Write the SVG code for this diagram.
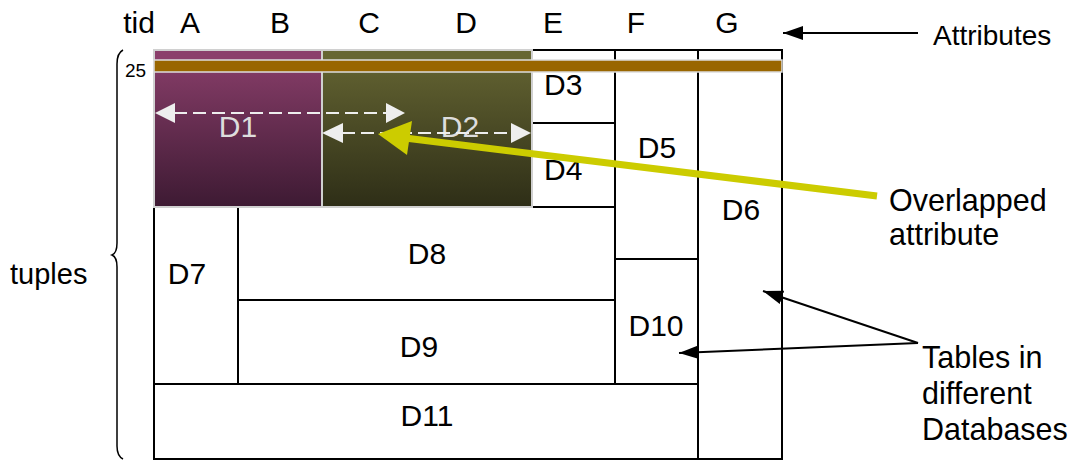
<svg xmlns="http://www.w3.org/2000/svg" width="1073" height="460" viewBox="0 0 1073 460">
  <style>
    text { font-family: "Liberation Sans", Arial, sans-serif; fill: #000; }
    .lbl { font-size: 30px; }
    .side { font-size: 30.5px; }
    .cell { fill: #fff; stroke: #000; stroke-width: 2; }
    .shade { stroke: #d0d0d0; stroke-width: 2; }
    .dash { stroke: #eeeeee; stroke-width: 2; stroke-dasharray: 13 6; fill: none; }
    .conn { stroke: #000; stroke-width: 2; fill: none; marker-end: url(#blackHead); }
  </style>
  <defs>
    <linearGradient id="gradD1" x1="0" y1="0" x2="0" y2="1">
      <stop offset="0" stop-color="#8b3f6b"/>
      <stop offset="1" stop-color="#3d1a33"/>
    </linearGradient>
    <linearGradient id="gradD2" x1="0" y1="0" x2="0" y2="1">
      <stop offset="0" stop-color="#666633"/>
      <stop offset="1" stop-color="#2e2e17"/>
    </linearGradient>
    <marker id="blackHead" markerUnits="userSpaceOnUse" markerWidth="22" markerHeight="16" refX="20" refY="7" orient="auto">
      <path d="M0,0 L20,7 L0,14 Z" fill="#000"/>
    </marker>
  </defs>

  <rect width="1073" height="460" fill="#fff"/>

  <!-- column headers -->
  <g id="headers">
    <text x="139" y="33" text-anchor="middle" class="lbl">tid</text>
    <text x="190" y="33" text-anchor="middle" class="lbl">A</text>
    <text x="280" y="33" text-anchor="middle" class="lbl">B</text>
    <text x="369" y="33" text-anchor="middle" class="lbl">C</text>
    <text x="466" y="33" text-anchor="middle" class="lbl">D</text>
    <text x="553" y="33" text-anchor="middle" class="lbl">E</text>
    <text x="636" y="33" text-anchor="middle" class="lbl">F</text>
    <text x="727" y="33" text-anchor="middle" class="lbl">G</text>
  </g>

  <!-- tables -->
  <g id="D3"><rect class="cell" x="532" y="50" width="83" height="73"/><text class="lbl" x="544" y="95">D3</text></g>
  <g id="D4"><rect class="cell" x="532" y="123" width="83" height="84"/><text class="lbl" x="544" y="180">D4</text></g>
  <g id="D5"><rect class="cell" x="615" y="50" width="83" height="209"/><text class="lbl" x="657" y="158" text-anchor="middle">D5</text></g>
  <g id="D6"><rect class="cell" x="698" y="50" width="84" height="409"/><text class="lbl" x="741" y="220" text-anchor="middle">D6</text></g>
  <g id="D7"><rect class="cell" x="154" y="207" width="84" height="177"/><text class="lbl" x="187" y="284" text-anchor="middle">D7</text></g>
  <g id="D8"><rect class="cell" x="238" y="207" width="377" height="93"/><text class="lbl" x="427" y="264" text-anchor="middle">D8</text></g>
  <g id="D9"><rect class="cell" x="238" y="300" width="377" height="84"/><text class="lbl" x="419" y="357" text-anchor="middle">D9</text></g>
  <g id="D10"><rect class="cell" x="615" y="259" width="83" height="125"/><text class="lbl" x="656" y="336" text-anchor="middle">D10</text></g>
  <g id="D11"><rect class="cell" x="154" y="384" width="544" height="75"/><text class="lbl" x="427" y="426" text-anchor="middle">D11</text></g>

  <g id="D1">
    <rect class="shade" x="154" y="50" width="168" height="157" fill="url(#gradD1)"/>
    <rect x="155" y="51" width="166" height="9" fill="#8b3f6b"/>
    <text class="lbl" x="238" y="137" text-anchor="middle" style="fill:#dddddd">D1</text>
  </g>
  <g id="D2">
    <rect class="shade" x="322" y="50" width="210" height="157" fill="url(#gradD2)"/>
    <rect x="323" y="51" width="208" height="9" fill="#666633"/>
    <text class="lbl" x="460" y="137" text-anchor="middle" style="fill:#dddddd">D2</text>
  </g>

  <!-- shared tid band -->
  <g id="tidBand">
    <rect x="154" y="60" width="628" height="12" fill="#996600" stroke="#dddddd" stroke-width="1.5"/>
    <text x="125" y="77" style="font-size:19px">25</text>
  </g>

  <!-- tuples brace -->
  <g id="tuples">
    <path d="M123,50 Q117,53 117,64 L117,243 Q117,253 112,255 Q117,257 117,267 L117,446 Q117,456 123,459" fill="none" stroke="#000" stroke-width="1.5"/>
    <text x="10" y="284" style="font-size:29px">tuples</text>
  </g>

  <!-- side labels -->
  <g id="attributesLabel"><text x="933" y="45" style="font-size:28px">Attributes</text></g>
  <g id="overlapLabel">
    <text class="side" x="889" y="211">Overlapped</text>
    <text class="side" x="889" y="245">attribute</text>
  </g>
  <g id="tablesLabel">
    <text class="side" x="922" y="368">Tables in</text>
    <text class="side" x="922" y="404">different</text>
    <text class="side" x="922" y="440">Databases</text>
  </g>

  <!-- connectors -->
  <g id="connectors">
    <!-- attribute range arrows -->
    <line class="dash" x1="174" y1="113" x2="387" y2="113"/>
    <polygon points="155,113 175,103 175,123" fill="#eeeeee"/>
    <polygon points="405,113 386,103 386,123" fill="#eeeeee"/>
    <line class="dash" x1="342" y1="133" x2="512" y2="133"/>
    <polygon points="322,133 343,123 343,143" fill="#eeeeee"/>
    <polygon points="531,133 511,123 511,143" fill="#eeeeee"/>

    <!-- overlap pointer -->
    <line x1="877" y1="196" x2="405" y2="138" stroke="#cccc00" stroke-width="7"/>
    <polygon points="378,134 412,121 407,155" fill="#cccc00"/>

    <line class="conn" x1="918" y1="33" x2="783" y2="33"/>
    <line class="conn" x1="918" y1="343" x2="763" y2="291"/>
    <line class="conn" x1="918" y1="343" x2="679" y2="353"/>
  </g>
</svg>
